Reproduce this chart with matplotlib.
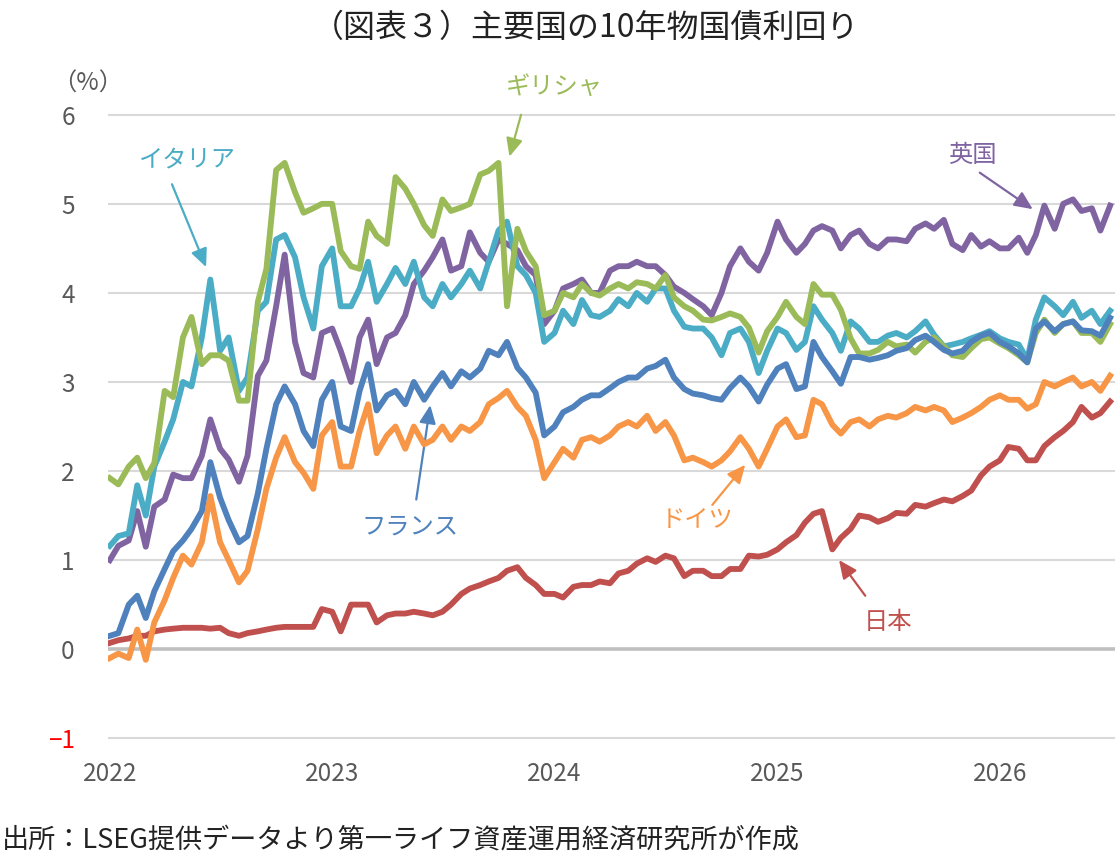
import matplotlib
matplotlib.use('Agg')
import matplotlib.pyplot as plt
import matplotlib.dates as mdates
import pandas as pd

plt.rcParams['font.family'] = ['Noto Sans CJK JP', 'DejaVu Sans']

# semi-monthly readings (1st and 15th), Jan 2022 - Jul 2026
dates = pd.date_range('2022-01-01', '2026-07-01', freq='SMS')

japan = [0.07, 0.10, 0.12, 0.15, 0.15, 0.20, 0.22, 0.23, 0.24, 0.24, 0.24, 0.23,
         0.24, 0.18, 0.15, 0.18, 0.20, 0.22, 0.24, 0.25, 0.25, 0.25, 0.25, 0.45,
         0.42, 0.20, 0.50, 0.50, 0.50, 0.30, 0.38, 0.40, 0.40, 0.42, 0.40, 0.38,
         0.42, 0.50, 0.62, 0.68, 0.72, 0.76, 0.80, 0.88, 0.92, 0.80, 0.72, 0.62,
         0.62, 0.58, 0.70, 0.72, 0.72, 0.76, 0.74, 0.85, 0.88, 0.96, 1.02, 0.98,
         1.05, 1.02, 0.82, 0.88, 0.88, 0.82, 0.82, 0.90, 0.90, 1.05, 1.04, 1.06,
         1.12, 1.20, 1.28, 1.42, 1.52, 1.55, 1.12, 1.25, 1.35, 1.50, 1.48, 1.43,
         1.47, 1.53, 1.52, 1.62, 1.60, 1.64, 1.68, 1.66, 1.72, 1.78, 1.95, 2.05,
         2.12, 2.27, 2.25, 2.12, 2.12, 2.28, 2.38, 2.45, 2.55, 2.72, 2.60, 2.65,
         2.78]

germany = [-0.10, -0.05, -0.10, 0.22, -0.12, 0.30, 0.55, 0.80, 1.05, 0.95, 1.20, 1.72,
           1.20, 1.00, 0.75, 0.88, 1.35, 1.80, 2.15, 2.38, 2.10, 1.98, 1.80, 2.40,
           2.55, 2.05, 2.05, 2.45, 2.75, 2.20, 2.40, 2.50, 2.25, 2.50, 2.30, 2.35,
           2.50, 2.35, 2.50, 2.45, 2.55, 2.75, 2.82, 2.90, 2.72, 2.62, 2.35, 1.92,
           2.10, 2.25, 2.15, 2.35, 2.38, 2.33, 2.40, 2.50, 2.55, 2.50, 2.62, 2.45,
           2.55, 2.40, 2.12, 2.15, 2.10, 2.05, 2.12, 2.22, 2.38, 2.25, 2.05, 2.25,
           2.50, 2.58, 2.38, 2.40, 2.80, 2.75, 2.52, 2.42, 2.55, 2.58, 2.50, 2.58,
           2.62, 2.60, 2.65, 2.72, 2.68, 2.72, 2.68, 2.55, 2.60, 2.65, 2.72, 2.80,
           2.85, 2.80, 2.80, 2.70, 2.75, 3.00, 2.95, 3.00, 3.05, 2.95, 3.00, 2.90,
           3.07]

france = [0.15, 0.18, 0.50, 0.60, 0.35, 0.65, 0.90, 1.10, 1.22, 1.35, 1.55, 2.10,
          1.70, 1.45, 1.20, 1.27, 1.75, 2.25, 2.75, 2.95, 2.75, 2.45, 2.28, 2.80,
          3.00, 2.50, 2.45, 2.90, 3.20, 2.68, 2.85, 2.90, 2.75, 3.00, 2.80, 2.95,
          3.10, 2.95, 3.12, 3.05, 3.15, 3.35, 3.30, 3.45, 3.16, 3.05, 2.88, 2.40,
          2.50, 2.66, 2.72, 2.80, 2.85, 2.85, 2.93, 3.00, 3.05, 3.05, 3.15, 3.18,
          3.25, 3.05, 2.92, 2.87, 2.85, 2.82, 2.80, 2.93, 3.05, 2.95, 2.78, 2.97,
          3.15, 3.20, 2.92, 2.95, 3.45, 3.28, 3.12, 2.98, 3.28, 3.28, 3.25, 3.27,
          3.30, 3.35, 3.38, 3.47, 3.52, 3.45, 3.36, 3.32, 3.35, 3.45, 3.52, 3.55,
          3.45, 3.40, 3.32, 3.22, 3.60, 3.68, 3.57, 3.65, 3.68, 3.58, 3.57, 3.52,
          3.72]

italy = [1.16, 1.27, 1.30, 1.84, 1.50, 2.05, 2.33, 2.58, 3.00, 2.95, 3.50, 4.15,
         3.35, 3.50, 2.90, 3.05, 3.80, 3.90, 4.60, 4.65, 4.40, 3.95, 3.60, 4.30,
         4.50, 3.85, 3.85, 4.05, 4.35, 3.90, 4.10, 4.28, 4.10, 4.35, 3.95, 3.85,
         4.10, 3.95, 4.10, 4.25, 4.05, 4.35, 4.70, 4.80, 4.30, 4.20, 4.00, 3.45,
         3.55, 3.80, 3.65, 3.92, 3.75, 3.73, 3.80, 3.93, 3.85, 4.00, 3.90, 4.05,
         4.05, 3.80, 3.62, 3.60, 3.60, 3.50, 3.30, 3.55, 3.60, 3.45, 3.10, 3.35,
         3.60, 3.55, 3.36, 3.45, 3.85, 3.70, 3.55, 3.35, 3.68, 3.60, 3.45, 3.45,
         3.52, 3.55, 3.50, 3.57, 3.68, 3.53, 3.40, 3.42, 3.45, 3.49, 3.53, 3.57,
         3.49, 3.45, 3.42, 3.25, 3.70, 3.95, 3.85, 3.75, 3.90, 3.72, 3.80, 3.65,
         3.80]

greece = [1.92, 1.85, 2.05, 2.15, 1.92, 2.09, 2.90, 2.83, 3.50, 3.73, 3.20, 3.30,
          3.30, 3.24, 2.79, 2.79, 3.90, 4.27, 5.38, 5.46, 5.13, 4.90, 4.95, 5.00,
          5.00, 4.47, 4.30, 4.27, 4.80, 4.64, 4.55, 5.30, 5.17, 5.00, 4.76, 4.64,
          5.05, 4.92, 4.96, 5.00, 5.33, 5.37, 5.46, 3.85, 4.72, 4.47, 4.30, 3.75,
          3.80, 4.00, 3.95, 4.10, 4.00, 3.97, 4.05, 4.10, 4.05, 4.12, 4.10, 4.05,
          4.20, 3.95, 3.85, 3.80, 3.70, 3.69, 3.73, 3.77, 3.73, 3.61, 3.33, 3.57,
          3.73, 3.90, 3.73, 3.65, 4.10, 3.98, 3.98, 3.81, 3.49, 3.32, 3.32, 3.36,
          3.45, 3.40, 3.42, 3.33, 3.45, 3.50, 3.40, 3.30, 3.28, 3.38, 3.48, 3.50,
          3.43, 3.38, 3.30, 3.22, 3.55, 3.70, 3.55, 3.65, 3.68, 3.55, 3.55, 3.45,
          3.65]

uk = [1.00, 1.16, 1.22, 1.55, 1.15, 1.60, 1.68, 1.96, 1.92, 1.92, 2.17, 2.58,
      2.25, 2.13, 1.88, 2.17, 3.07, 3.24, 3.85, 4.43, 3.45, 3.10, 3.05, 3.55,
      3.60, 3.35, 3.00, 3.50, 3.70, 3.20, 3.50, 3.55, 3.75, 4.10, 4.25, 4.40,
      4.60, 4.25, 4.30, 4.68, 4.45, 4.35, 4.60, 4.55, 4.48, 4.30, 4.20, 3.65,
      3.80, 4.05, 4.10, 4.15, 4.00, 4.00, 4.25, 4.30, 4.30, 4.35, 4.30, 4.30,
      4.20, 4.07, 4.00, 3.93, 3.85, 3.75, 4.00, 4.30, 4.50, 4.35, 4.25, 4.45,
      4.80, 4.60, 4.45, 4.55, 4.70, 4.75, 4.70, 4.50, 4.65, 4.70, 4.55, 4.50,
      4.60, 4.60, 4.58, 4.72, 4.78, 4.72, 4.82, 4.55, 4.48, 4.65, 4.52, 4.58,
      4.50, 4.50, 4.62, 4.45, 4.65, 4.98, 4.72, 5.00, 5.05, 4.92, 4.95, 4.70,
      4.98]

yticks = [-1, 0, 1, 2, 3, 4, 5, 6]
years = [2022, 2023, 2024, 2025, 2026]

c_jp, c_de, c_fr = '#C0504D', '#F79646', '#4F81BD'
c_it, c_gr, c_uk = '#4BACC6', '#9BBB59', '#8064A2'
grey = '#595959'

fig = plt.figure(figsize=(11.2, 8.56), dpi=100)
ax = fig.add_axes([108 / 1120, 1 - 740 / 856, 1007 / 1120, 627 / 856])

ax.axhline(0, color='#BFBFBF', lw=2.6, zorder=1)
lw = 4.2
ax.plot(dates, japan, color=c_jp, lw=lw, zorder=3, solid_joinstyle='round')
ax.plot(dates, uk, color=c_uk, lw=lw, zorder=4, solid_joinstyle='round')
ax.plot(dates, italy, color=c_it, lw=lw, zorder=5, solid_joinstyle='round')
ax.plot(dates, greece, color=c_gr, lw=lw, zorder=6, solid_joinstyle='round')
ax.plot(dates, germany, color=c_de, lw=lw, zorder=7, solid_joinstyle='round')
ax.plot(dates, france, color=c_fr, lw=lw, zorder=8, solid_joinstyle='round')

ax.set_ylim(-1.02, 6.02)
ax.set_yticks(yticks)
ax.set_xlim(pd.Timestamp('2021-12-29'), pd.Timestamp('2026-07-09'))
ax.set_xticks([pd.Timestamp(f'{y}-01-01') for y in years])
ax.xaxis.set_major_formatter(mdates.DateFormatter('%Y'))
ax.grid(axis='y', color='#D9D9D9', lw=1.5, zorder=0)
ax.set_axisbelow(True)
for s in ax.spines.values():
    s.set_visible(False)
ax.tick_params(axis='y', length=0, pad=24, labelsize=17.5, labelcolor=grey)
ax.tick_params(axis='x', length=0, pad=15, labelsize=17.5, labelcolor=grey)
ax.get_yticklabels()[0].set_color('#FF0000')


def label(text, color, pos, tail, tip):
    ax.text(pd.Timestamp(pos[0]), pos[1], text, color=color, fontsize=17.5,
            ha='center', va='center', clip_on=False)
    ax.annotate('', xy=(pd.Timestamp(tip[0]), tip[1]),
                xytext=(pd.Timestamp(tail[0]), tail[1]),
                arrowprops=dict(arrowstyle='-|>,head_length=0.55,head_width=0.25',
                                color=color, lw=1.6, mutation_scale=20,
                                shrinkA=0, shrinkB=0),
                annotation_clip=False)


label('イタリア', c_it, ('2022-05-08', 5.5), ('2022-04-13', 5.22), ('2022-06-08', 4.29))
label('ギリシャ', c_gr, ('2024-01-01', 6.31), ('2023-11-07', 6.0), ('2023-10-19', 5.53))
label('英国', c_uk, ('2025-11-16', 5.55), ('2025-11-29', 5.35), ('2026-02-24', 4.94))
label('フランス', c_fr, ('2023-05-08', 1.38), ('2023-05-19', 1.68), ('2023-06-11', 2.74))
label('ドイツ', c_de, ('2024-08-22', 1.45), ('2024-09-16', 1.62), ('2024-11-09', 2.07))
label('日本', c_jp, ('2025-07-01', 0.30), ('2025-05-25', 0.6), ('2025-04-12', 1.0))

fig.text(0.523, 1 - 28 / 856, '（図表３）主要国の10年物国債利回り', ha='center', va='center',
         fontsize=23, color='#222222')
fig.text(88 / 1120, 1 - 84 / 856, '（%）', ha='center', va='center', fontsize=17.5, color=grey)
fig.text(2 / 1120, 1 - 840 / 856, '出所：LSEG提供データより第一ライフ資産運用経済研究所が作成',
         ha='left', va='center', fontsize=19.5, color='#222222')

fig.savefig('out.png', dpi=100)
